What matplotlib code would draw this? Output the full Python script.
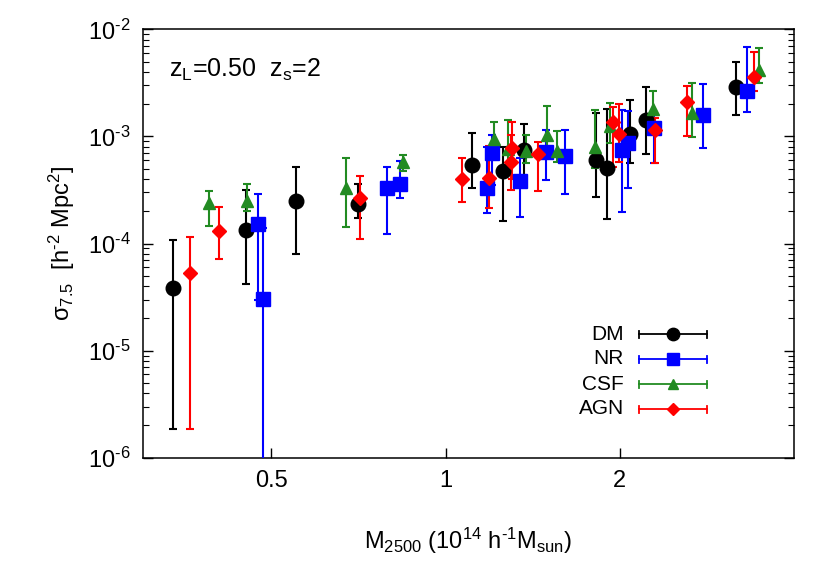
import numpy as np
import matplotlib
matplotlib.use("Agg")
import matplotlib.pyplot as plt
from matplotlib.lines import Line2D
from matplotlib.ticker import FixedLocator, FixedFormatter, LogLocator, NullFormatter

plt.rcParams['font.family'] = ['Liberation Sans', 'DejaVu Sans']
plt.rcParams['mathtext.fontset'] = 'custom'
plt.rcParams['mathtext.rm'] = 'Liberation Sans'
plt.rcParams['mathtext.it'] = 'Liberation Sans:italic'
plt.rcParams['mathtext.default'] = 'regular'

# ---- data: mass (1e14 h^-1 Msun), sigma, lower end, upper end of error bar ----
dm_x = [0.338, 0.452, 0.552, 0.707, 1.111, 1.258, 1.368, 1.818, 1.897, 2.087, 2.224, 3.18]
dm_y = [3.86e-5, 1.34e-4, 2.49e-4, 2.32e-4, 5.38e-4, 4.76e-4, 7.48e-4, 6.03e-4, 5.11e-4, 1.05e-3, 1.43e-3, 2.92e-3]
dm_lo = [1.86e-6, 4.16e-5, 7.93e-5, 1.74e-4, 3.28e-4, 1.62e-4, 3.78e-4, 2.74e-4, 1.71e-4, 5.62e-4, 6.86e-4, 1.59e-3]
dm_hi = [1.07e-4, 3.16e-4, 5.22e-4, 3.60e-4, 1.07e-3, 8.03e-4, 1.30e-3, 1.67e-3, 1.80e-3, 2.19e-3, 2.88e-3, 4.90e-3]

nr_x = [0.475, 0.483, 0.793, 0.835, 1.181, 1.201, 1.343, 1.494, 1.607, 2.014, 2.067, 2.29, 2.787, 3.313]
nr_y = [1.52e-4, 3.03e-5, 3.32e-4, 3.57e-4, 3.28e-4, 7.06e-4, 3.84e-4, 7.21e-4, 6.57e-4, 7.48e-4, 8.64e-4, 1.21e-3, 1.59e-3, 2.68e-3]
nr_lo = [2.96e-5, 5.0e-7, 1.22e-4, 2.64e-4, 1.91e-4, 3.52e-4, 1.78e-4, 3.92e-4, 2.90e-4, 1.98e-4, 3.32e-4, 5.62e-4, 7.86e-4, 1.68e-3]
nr_hi = [2.92e-4, 1.40e-4, 5.22e-4, 5.90e-4, 8.03e-4, 1.03e-3, 6.25e-4, 1.15e-3, 1.15e-3, 1.77e-3, 1.71e-3, 1.70e-3, 3.08e-3, 6.90e-3]

csf_x = [0.390, 0.454, 0.674, 0.844, 1.211, 1.282, 1.379, 1.499, 1.560, 1.810, 1.922, 2.284, 2.668, 3.479]
csf_y = [2.38e-4, 2.49e-4, 3.32e-4, 5.81e-4, 9.48e-4, 7.69e-4, 7.32e-4, 1.04e-3, 7.37e-4, 8.03e-4, 1.24e-3, 1.80e-3, 1.65e-3, 4.18e-3]
csf_lo = [1.47e-4, 2.03e-4, 1.44e-4, 4.79e-4, 7.37e-4, 5.42e-4, 5.69e-4, 6.97e-4, 5.81e-4, 5.05e-4, 8.75e-4, 1.15e-3, 9.80e-4, 3.18e-3]
csf_hi = [3.11e-4, 3.60e-4, 6.34e-4, 6.76e-4, 1.37e-3, 1.41e-3, 1.03e-3, 1.93e-3, 1.13e-3, 1.77e-3, 2.07e-3, 2.66e-3, 3.15e-3, 6.67e-3]

agn_x = [0.362, 0.406, 0.710, 1.069, 1.190, 1.304, 1.297, 1.444, 1.943, 1.992, 2.302, 2.615, 3.411]
agn_y = [5.26e-5, 1.30e-4, 2.66e-4, 4.03e-4, 4.09e-4, 7.76e-4, 5.81e-4, 6.86e-4, 1.35e-3, 1.05e-3, 1.15e-3, 2.09e-3, 3.62e-3]
agn_lo = [1.86e-6, 7.12e-5, 1.10e-4, 2.46e-4, 2.13e-4, 4.01e-4, 3.16e-4, 3.10e-4, 5.22e-4, 5.74e-4, 5.62e-4, 1.01e-3, 2.66e-3]
agn_hi = [1.14e-4, 2.18e-4, 4.27e-4, 6.34e-4, 8.20e-4, 1.35e-3, 1.03e-3, 8.94e-4, 1.90e-3, 2.00e-3, 1.50e-3, 2.96e-3, 6.12e-3]

series = [
    ("DM", dm_x, dm_y, dm_lo, dm_hi, "black", "o", 10.5),
    ("NR", nr_x, nr_y, nr_lo, nr_hi, "#0000ff", "s", 9.5),
    ("CSF", csf_x, csf_y, csf_lo, csf_hi, "#228b22", "^", 9.0),
    ("AGN", agn_x, agn_y, agn_lo, agn_hi, "#ff0000", "D", 7.5),
]

xticks = [0.5, 1, 2]
xticklabels = ["0.5", "1", "2"]
yticks = [1e-6, 1e-5, 1e-4, 1e-3, 1e-2]
yticklabels = [r'10$^{\text{-}6}$', r'10$^{\text{-}5}$', r'10$^{\text{-}4}$',
               r'10$^{\text{-}3}$', r'10$^{\text{-}2}$']

W, H = 822, 576
fig = plt.figure(figsize=(W / 100, H / 100), dpi=100)
ax = fig.add_axes([143 / W, 1 - 457.7 / H, (794 - 143) / W, (457.7 - 29.3) / H])

for name, x, y, lo, hi, col, mk, ms in series:
    y = np.array(y); lo = np.array(lo); hi = np.array(hi)
    ax.errorbar(x, y, yerr=[y - lo, hi - y], fmt=mk, color=col, ecolor=col,
                markersize=ms, elinewidth=1.5, capsize=3, capthick=1.5,
                label=name, zorder=3)

ax.set_xscale('log')
ax.set_yscale('log')
ax.set_xlim(0.3, 4.0)
ax.set_ylim(1e-6, 1e-2)

ax.xaxis.set_major_locator(FixedLocator(xticks))
ax.xaxis.set_major_formatter(FixedFormatter(xticklabels))
ax.xaxis.set_minor_locator(FixedLocator([]))
ax.yaxis.set_major_locator(FixedLocator(yticks))
ax.yaxis.set_major_formatter(FixedFormatter(yticklabels))
ax.yaxis.set_minor_locator(LogLocator(base=10, subs=np.arange(2, 10), numticks=20))
ax.yaxis.set_minor_formatter(NullFormatter())

ax.tick_params(axis='both', which='both', direction='in')
ax.tick_params(axis='y', which='both', left=True, right=True)
ax.tick_params(axis='x', which='both', top=False, bottom=True)
ax.tick_params(which='major', length=7, width=1.0, labelsize=17, pad=9)
ax.tick_params(which='minor', length=4, width=0.8)
for s in ax.spines.values():
    s.set_linewidth(1.1)

ax.set_xlabel(r'M$_{2500}$ (10$^{14}$ h$^{\text{-}1}$M$_{sun}$)', fontsize=17, labelpad=24)
ax.set_ylabel(r'$\sigma_{7.5}$  [h$^{\text{-}2}$ Mpc$^{2}$]', fontsize=17, labelpad=8)

ax.text(0.04, 0.905, r'z$_L$=0.50  z$_s$=2', transform=ax.transAxes, fontsize=18,
        ha='left', va='center')

# manual gnuplot-style key (label right-aligned, horizontal bar with caps)
to_ax = ax.transAxes.inverted()
def axpt(px, py):
    return to_ax.transform(fig.transFigure.transform((px / W, 1 - py / H)))

key_rows = [334, 359, 384, 409]
for (name, x, y, lo, hi, col, mk, ms), ry in zip(series, key_rows):
    (tx, ty) = axpt(624, ry)
    ax.text(tx, ty, name, transform=ax.transAxes, ha='right', va='center', fontsize=15)
    (x0, yy) = axpt(639, ry)
    (x1, _) = axpt(707, ry)
    (xm, _) = axpt(673, ry)
    (_, yc0) = axpt(639, ry - 3.5)
    (_, yc1) = axpt(639, ry + 3.5)
    for art in [Line2D([x0, x1], [yy, yy], color=col, lw=1.3),
                Line2D([x0, x0], [yc0, yc1], color=col, lw=1.3),
                Line2D([x1, x1], [yc0, yc1], color=col, lw=1.3),
                Line2D([xm], [yy], marker=mk, color=col, markersize=ms * 0.85, linestyle='none')]:
        art.set_transform(ax.transAxes)
        ax.add_line(art)

fig.savefig('out.png', dpi=100)
